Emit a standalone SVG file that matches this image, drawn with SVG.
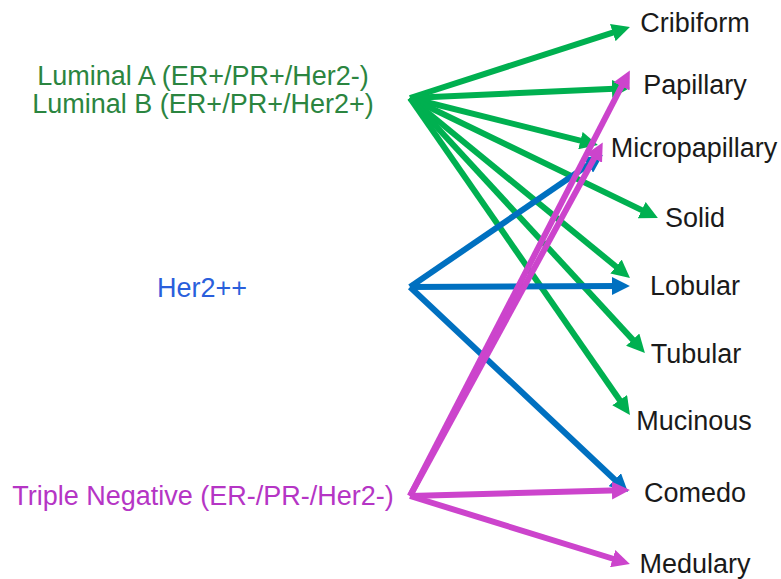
<svg xmlns="http://www.w3.org/2000/svg" width="781" height="579" viewBox="0 0 781 579">
<style>
text{font-family:"Liberation Sans",Arial,sans-serif;font-size:27px;}
.r{fill:#1a1a1a;text-anchor:middle;}
.l{text-anchor:middle;}
.g{stroke:#00B050;}
.b{stroke:#0070C0;}
.m{stroke:#CC44CC;}
#connectors line{stroke-width:6;fill:none;}
.g{marker-end:url(#ag);}
.b{marker-end:url(#ab);}
.m{marker-end:url(#am);}
</style>
<defs>
<marker id="ag" viewBox="0 0 10 10" refX="4.5" refY="5" markerUnits="userSpaceOnUse" markerWidth="18" markerHeight="18" orient="auto"><path d="M0,0L10,5L0,10z" fill="#00B050"/></marker>
<marker id="ab" viewBox="0 0 10 10" refX="4.5" refY="5" markerUnits="userSpaceOnUse" markerWidth="18" markerHeight="18" orient="auto"><path d="M0,0L10,5L0,10z" fill="#0070C0"/></marker>
<marker id="am" viewBox="0 0 10 10" refX="4.5" refY="5" markerUnits="userSpaceOnUse" markerWidth="18" markerHeight="18" orient="auto"><path d="M0,0L10,5L0,10z" fill="#CC44CC"/></marker>
</defs>
<rect width="781" height="579" fill="#fff"/>
<g id="connectors">
<line class="g" x1="410" y1="98" x2="620.5" y2="30.1"/>
<line class="g" x1="410" y1="98" x2="620" y2="88.5"/>
<line class="g" x1="410" y1="98" x2="588.3" y2="142.6"/>
<line class="g" x1="410" y1="98" x2="649" y2="213.6"/>
<line class="g" x1="410" y1="98" x2="622.3" y2="271.7"/>
<line class="g" x1="410" y1="98" x2="638.2" y2="345.6"/>
<line class="g" x1="410" y1="98" x2="624.3" y2="406.8"/>
<line class="b" x1="410" y1="287" x2="594.7" y2="160.6"/>
<line class="b" x1="410" y1="287" x2="620" y2="286"/>
<line class="b" x1="410" y1="287" x2="620.7" y2="485.2"/>
<line class="m" x1="410" y1="496" x2="625.3" y2="79.2"/>
<line class="m" x1="410" y1="496" x2="598" y2="151.3"/>
<line class="m" x1="410" y1="496" x2="620" y2="490.3"/>
<line class="m" x1="410" y1="496" x2="620.4" y2="561"/>
</g>
<g id="luminal"><text class="l" x="203" y="85" fill="#2B8540">Luminal A (ER+/PR+/Her2-)</text><text class="l" x="203" y="113" fill="#2B8540">Luminal B (ER+/PR+/Her2+)</text></g>
<g id="her2"><text class="l" x="202" y="297" fill="#2A5FDC">Her2++</text></g>
<g id="triple"><text class="l" x="203" y="505" fill="#B535C5">Triple Negative (ER-/PR-/Her2-)</text></g>
<g id="cribiform"><text class="r" x="695" y="32">Cribiform</text></g>
<g id="papillary"><text class="r" x="695" y="94">Papillary</text></g>
<g id="micropapillary"><text class="r" x="694" y="157">Micropapillary</text></g>
<g id="solid"><text class="r" x="695" y="227">Solid</text></g>
<g id="lobular"><text class="r" x="695" y="295">Lobular</text></g>
<g id="tubular"><text class="r" x="696" y="363">Tubular</text></g>
<g id="mucinous"><text class="r" x="694" y="430">Mucinous</text></g>
<g id="comedo"><text class="r" x="695" y="502">Comedo</text></g>
<g id="medulary"><text class="r" x="695" y="573">Medulary</text></g>
</svg>
